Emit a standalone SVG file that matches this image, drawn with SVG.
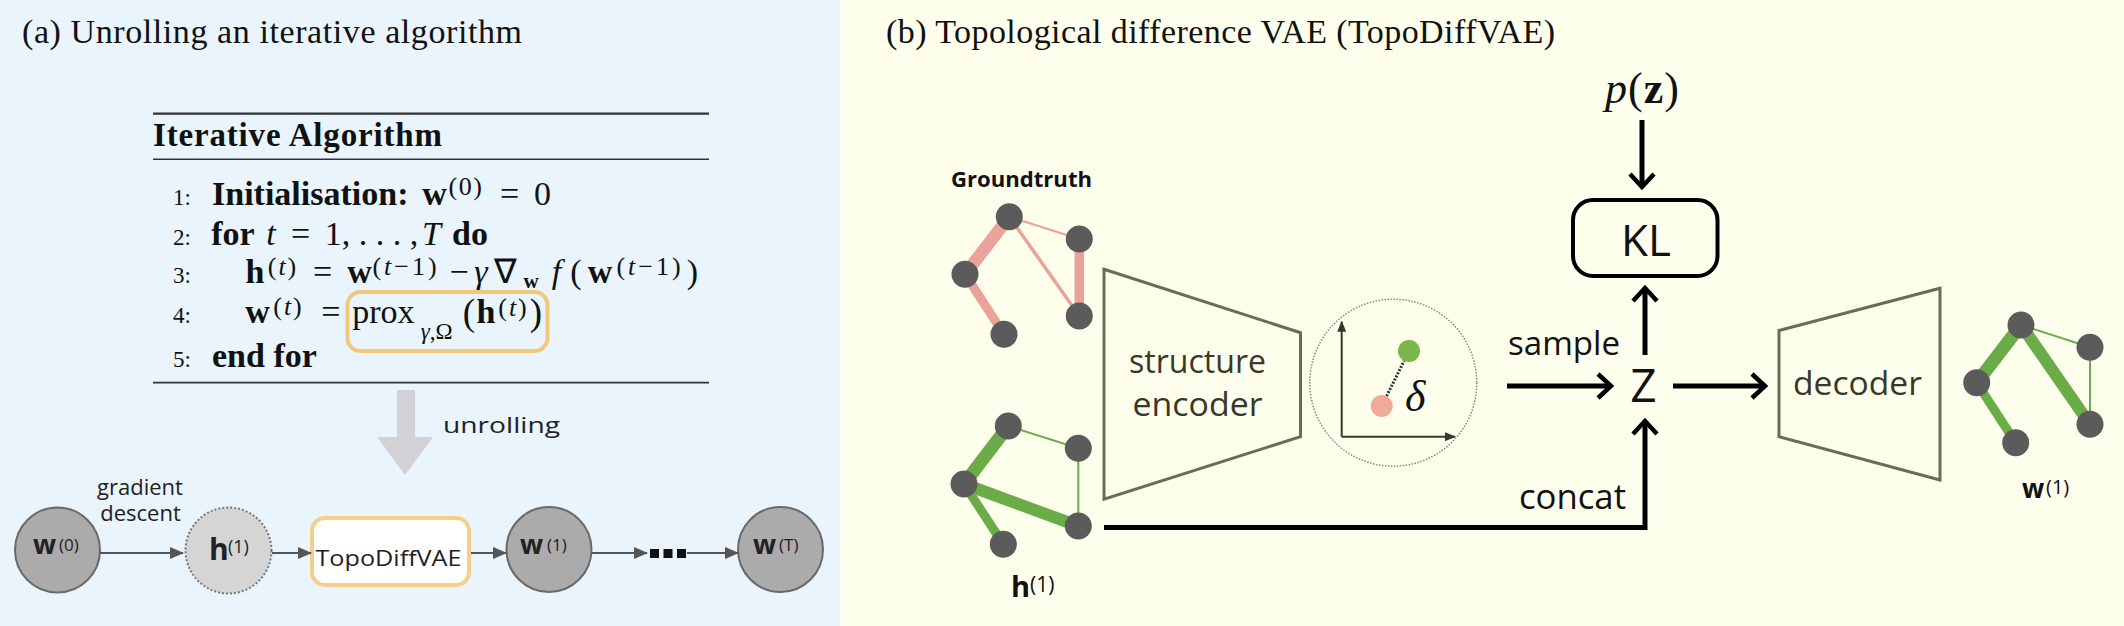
<svg xmlns="http://www.w3.org/2000/svg" width="2124" height="626" viewBox="0 0 2124 626">
<style>
.serif{font-family:"Liberation Serif","Times New Roman",serif;fill:#111}
.sans{font-family:"Open Sans",Lato,"Liberation Sans",sans-serif}
.b{font-weight:bold}
.i{font-style:italic}
.ln{font-size:23px}
.alg{font-size:34px}
.sup{font-size:26px}
.lbl{fill:#222;font-size:22px}
.olive{fill:#38382a}
.node{fill:#5b5b5b}
.pink{stroke:#e9a39b;stroke-linecap:round;fill:none}
.green{stroke:#6aad48;stroke-linecap:round;fill:none}
.gcirc{fill:#ababab;stroke:#6a6a6a;stroke-width:2}
.garrow{stroke:#555;stroke-width:2;fill:none;marker-end:url(#tri)}
.karrow{stroke:#000;stroke-width:5;fill:none;marker-end:url(#chev);stroke-linejoin:miter}
.rule{stroke:#333;fill:none}
.trap{fill:none;stroke:#6b6b5b;stroke-width:3}
</style>
<defs>
<marker id="tri" viewBox="0 0 14 12" refX="13" refY="6" markerWidth="14" markerHeight="12" markerUnits="userSpaceOnUse" orient="auto"><path d="M0,0 L14,6 L0,12 z" fill="#555"/></marker>
<marker id="chev" viewBox="-18 -15 22 30" refX="0" refY="0" markerWidth="22" markerHeight="30" markerUnits="userSpaceOnUse" orient="auto" overflow="visible"><path d="M-13,-12 L0,0 L-13,12" fill="none" stroke="#000" stroke-width="4.5"/></marker>
<marker id="axis" viewBox="0 0 11 9" refX="10" refY="4.5" markerWidth="11" markerHeight="9" markerUnits="userSpaceOnUse" orient="auto"><path d="M0,0 L11,4.5 L0,9 z" fill="#38382a"/></marker>
</defs>

<rect x="0" y="0" width="840" height="626" fill="#e9f4fc"/>
<rect x="840" y="0" width="1284" height="626" fill="#fefeec"/>

<g id="title-a"><text class="serif" x="22" y="43" font-size="34" textLength="500">(a) Unrolling an iterative algorithm</text></g>
<g id="title-b"><text class="serif" x="886" y="43" font-size="34" textLength="669">(b) Topological difference VAE (TopoDiffVAE)</text></g>

<g id="algorithm">
<line class="rule" x1="153" y1="113.7" x2="709" y2="113.7" stroke-width="2.2"/>
<text class="serif b" x="153" y="146" font-size="33" textLength="289">Iterative Algorithm</text>
<line class="rule" x1="153" y1="159.3" x2="709" y2="159.3" stroke-width="1.4"/>
<text class="serif ln" x="173" y="205">1:</text>
<text class="serif alg b" x="212" y="205">Initialisation:</text>
<text class="serif alg" text-anchor="middle"><tspan class="b" x="434.5" y="205">w</tspan><tspan class="sup" x="466" y="195" letter-spacing="1.5">(0)</tspan><tspan x="509.5" y="205">=</tspan><tspan x="542.5" y="205">0</tspan></text>
<text class="serif ln" x="173" y="245">2:</text>
<text class="serif alg" text-anchor="middle"><tspan class="b" x="233" y="245">for</tspan><tspan class="i" x="271" y="245">t</tspan><tspan x="300.5" y="245">=</tspan><tspan x="371.5" y="245">1, . . . ,</tspan><tspan class="i" x="431.5" y="245">T</tspan><tspan class="b" x="470" y="245">do</tspan></text>
<text class="serif ln" x="173" y="283">3:</text>
<text class="serif alg" text-anchor="middle"><tspan class="b" x="255" y="283">h</tspan><tspan class="sup" x="283" y="275" letter-spacing="2">(<tspan class="i">t</tspan>)</tspan><tspan x="322.5" y="283">=</tspan><tspan class="b" x="359.5" y="283">w</tspan><tspan class="sup" x="406" y="275" letter-spacing="3">(<tspan class="i">t</tspan>−1)</tspan><tspan x="459" y="283">−</tspan><tspan class="i" x="481" y="283">γ</tspan><tspan x="505" y="283">∇</tspan><tspan class="b" x="531" y="288" font-size="21">w</tspan><tspan class="i" x="556.5" y="283">f</tspan><tspan x="576" y="283">(</tspan><tspan class="b" x="600" y="283">w</tspan><tspan class="sup" x="650" y="275" letter-spacing="3">(<tspan class="i">t</tspan>−1)</tspan><tspan x="692.5" y="283">)</tspan></text>
<text class="serif ln" x="173" y="323">4:</text>
<text class="serif alg" text-anchor="middle"><tspan class="b" x="257.5" y="323">w</tspan><tspan class="sup" x="288.5" y="315" letter-spacing="2">(<tspan class="i">t</tspan>)</tspan><tspan x="330.8" y="323">=</tspan><tspan x="383.3" y="323">prox</tspan><tspan x="436.7" y="339" font-size="23"><tspan class="i">γ</tspan>,Ω</tspan><tspan x="469" y="325" font-size="37">(</tspan><tspan class="b" x="486" y="323">h</tspan><tspan class="sup" x="513.5" y="316" letter-spacing="2">(<tspan class="i">t</tspan>)</tspan><tspan x="536" y="325" font-size="37">)</tspan></text>
<rect x="347.5" y="292" width="200" height="59" rx="13" fill="none" stroke="#f1c77c" stroke-width="4"/>
<text class="serif ln" x="173" y="367">5:</text>
<text class="serif alg b" x="212" y="367">end for</text>
<line class="rule" x1="153" y1="382.7" x2="709" y2="382.7" stroke-width="1.8"/>
</g>

<g id="node-w0"><circle class="gcirc" cx="57.5" cy="550" r="42.5"/><text class="sans lbl" y="554"><tspan class="b" x="33" font-size="27">w</tspan><tspan x="59" y="551" font-size="17">(0)</tspan></text></g>
<g id="node-h1"><circle cx="228.5" cy="550.5" r="43" fill="#d5d5d5" stroke="#777" stroke-width="2" stroke-dasharray="2 2"/><text class="sans lbl" y="560"><tspan class="b" x="209" font-size="30">h</tspan><tspan x="228" y="553" font-size="18">(1)</tspan></text></g>
<g id="node-topodiffvae"><rect x="312" y="518" width="157" height="67" rx="13" fill="#fff" stroke="#f3cf8a" stroke-width="4"/><text class="sans lbl" x="315.5" y="566" font-size="29" textLength="146" lengthAdjust="spacingAndGlyphs">TopoDiffVAE</text></g>
<g id="node-w1"><circle class="gcirc" cx="549" cy="549.5" r="42.5"/><text class="sans lbl" y="554"><tspan class="b" x="520" font-size="27">w</tspan><tspan x="547" y="551" font-size="17">(1)</tspan></text></g>
<g id="node-dots"><rect x="650" y="549" width="9" height="9" fill="#111"/><rect x="663.5" y="549" width="9" height="9" fill="#111"/><rect x="677" y="549" width="9" height="9" fill="#111"/></g>
<g id="node-wT"><circle class="gcirc" cx="780.5" cy="549.5" r="42.5"/><text class="sans lbl" y="554"><tspan class="b" x="753" font-size="27">w</tspan><tspan x="779" y="551" font-size="17">(T)</tspan></text></g>

<g id="label-gradient"><text class="sans lbl" x="140" y="495" font-size="20" text-anchor="middle">gradient</text><text class="sans lbl" x="140.5" y="521" font-size="20" text-anchor="middle">descent</text></g>
<g id="label-unrolling"><text class="sans lbl" x="443" y="433" font-size="29" textLength="117" lengthAdjust="spacingAndGlyphs">unrolling</text></g>

<g id="groundtruth-graph">
<text class="sans b" x="951" y="187" font-size="22" fill="#111" textLength="141" lengthAdjust="spacingAndGlyphs">Groundtruth</text>
<line class="pink" x1="1009.3" y1="216.7" x2="965" y2="274.3" stroke-width="12.5"/>
<line class="pink" x1="965" y1="274.3" x2="1004" y2="334.3" stroke-width="9"/>
<line class="pink" x1="1009.3" y1="216.7" x2="1079.3" y2="239" stroke-width="2"/>
<line class="pink" x1="1009.3" y1="216.7" x2="1079.3" y2="316" stroke-width="3.5"/>
<line class="pink" x1="1079.3" y1="239" x2="1079.3" y2="316" stroke-width="9.5"/>
<circle class="node" cx="1009.3" cy="216.7" r="13.5"/><circle class="node" cx="1079.3" cy="239" r="13.5"/><circle class="node" cx="965" cy="274.3" r="13.5"/><circle class="node" cx="1079.3" cy="316" r="13.5"/><circle class="node" cx="1004" cy="334.3" r="13.5"/>
</g>

<g id="h1-graph">
<line class="green" x1="1008.3" y1="426" x2="964" y2="484" stroke-width="13"/>
<line class="green" x1="964" y1="484" x2="1078.3" y2="526" stroke-width="12"/>
<line class="green" x1="964" y1="484" x2="1003.3" y2="544.3" stroke-width="9"/>
<line class="green" x1="1008.3" y1="426" x2="1078.3" y2="448.3" stroke-width="2"/>
<line class="green" x1="1078.3" y1="448.3" x2="1078.3" y2="526" stroke-width="2"/>
<circle class="node" cx="1008.3" cy="426" r="13.5"/><circle class="node" cx="1078.3" cy="448.3" r="13.5"/><circle class="node" cx="964" cy="484" r="13.5"/><circle class="node" cx="1078.3" cy="526" r="13.5"/><circle class="node" cx="1003.3" cy="544.3" r="13.5"/>
<text class="sans" y="597" fill="#111"><tspan class="b" x="1011" font-size="29">h</tspan><tspan x="1030" y="592" font-size="21">(1)</tspan></text>
</g>

<g id="structure-encoder">
<path class="trap" d="M1104,269.3 L1300.5,332.7 L1300.5,436.7 L1104,499.3 Z"/>
<text class="sans olive" x="1197.5" y="373" font-size="32" text-anchor="middle" textLength="137" lengthAdjust="spacingAndGlyphs">structure</text>
<text class="sans olive" x="1197.5" y="416" font-size="32" text-anchor="middle" textLength="130" lengthAdjust="spacingAndGlyphs">encoder</text>
</g>

<g id="latent-space">
<circle cx="1393.3" cy="382.7" r="83.5" fill="none" stroke="#8a8a80" stroke-width="1.5" stroke-dasharray="1.5 1.5"/>
<line x1="1341.7" y1="436.7" x2="1341.7" y2="321.7" stroke="#38382a" stroke-width="2" marker-end="url(#axis)"/>
<line x1="1341.7" y1="436.7" x2="1455" y2="436.7" stroke="#38382a" stroke-width="2" marker-end="url(#axis)"/>
<line x1="1386.6" y1="396.1" x2="1404.1" y2="360.9" stroke="#333" stroke-width="3" stroke-dasharray="2 1.5"/>
<circle cx="1409" cy="351" r="11" fill="#7ab648"/>
<circle cx="1381.7" cy="406" r="11" fill="#eeab98"/>
<text class="serif i" x="1405" y="411" font-size="44" fill="#38382a">δ</text>
</g>

<g id="prior"><text class="serif" x="1605" y="103" font-size="44" letter-spacing="1"><tspan class="i">p</tspan>(<tspan class="b">z</tspan>)</text></g>
<g id="kl"><rect x="1573" y="200" width="144.5" height="76" rx="20" fill="none" stroke="#000" stroke-width="4"/><text class="sans" x="1646" y="256" font-size="44" text-anchor="middle" fill="#111">KL</text></g>
<g id="latent-z"><text class="sans" x="1643.5" y="402" font-size="46" text-anchor="middle" fill="#111">Z</text></g>
<g id="label-sample"><text class="sans" x="1508" y="355" font-size="33" fill="#111" textLength="112" lengthAdjust="spacingAndGlyphs">sample</text></g>
<g id="label-concat"><text class="sans" x="1519" y="509" font-size="34" fill="#111" textLength="107" lengthAdjust="spacingAndGlyphs">concat</text></g>

<g id="decoder">
<path class="trap" d="M1779,330.5 L1940,288.3 L1940,480 L1779,436.7 Z"/>
<text class="sans olive" x="1857.5" y="395" font-size="33" text-anchor="middle" textLength="129" lengthAdjust="spacingAndGlyphs">decoder</text>
</g>

<g id="w1-graph">
<line class="green" x1="2021" y1="325" x2="1976.7" y2="382.7" stroke-width="13"/>
<line class="green" x1="2021" y1="325" x2="2090" y2="424.3" stroke-width="12"/>
<line class="green" x1="1976.7" y1="382.7" x2="2015.7" y2="442.7" stroke-width="9"/>
<line class="green" x1="2021" y1="325" x2="2090" y2="347.3" stroke-width="2"/>
<line class="green" x1="2090" y1="347.3" x2="2090" y2="424.3" stroke-width="2"/>
<circle class="node" cx="2021" cy="325" r="13.5"/><circle class="node" cx="2090" cy="347.3" r="13.5"/><circle class="node" cx="1976.7" cy="382.7" r="13.5"/><circle class="node" cx="2090" cy="424.3" r="13.5"/><circle class="node" cx="2015.7" cy="442.7" r="13.5"/>
<text class="sans" y="497.5" fill="#111"><tspan class="b" x="2022" font-size="26">w</tspan><tspan x="2046" y="494" font-size="20">(1)</tspan></text>
</g>

<g id="connectors">
<path d="M397,390 H415 V437 H433 L405,475 L377,437 H397 Z" fill="#d2d2d6"/>
<path class="garrow" d="M100,553 H183"/>
<path class="garrow" d="M272,553 H311"/>
<path class="garrow" d="M471,553 H506"/>
<path class="garrow" d="M592,553 H647"/>
<path class="garrow" d="M687,553 H738"/>
<path class="karrow" d="M1507,386 H1611"/>
<path class="karrow" d="M1673,386 H1765"/>
<path class="karrow" d="M1645,355 V288"/>
<path class="karrow" d="M1642,120 V187"/>
<path class="karrow" d="M1104,527.5 H1645 V421"/>
</g>
</svg>
